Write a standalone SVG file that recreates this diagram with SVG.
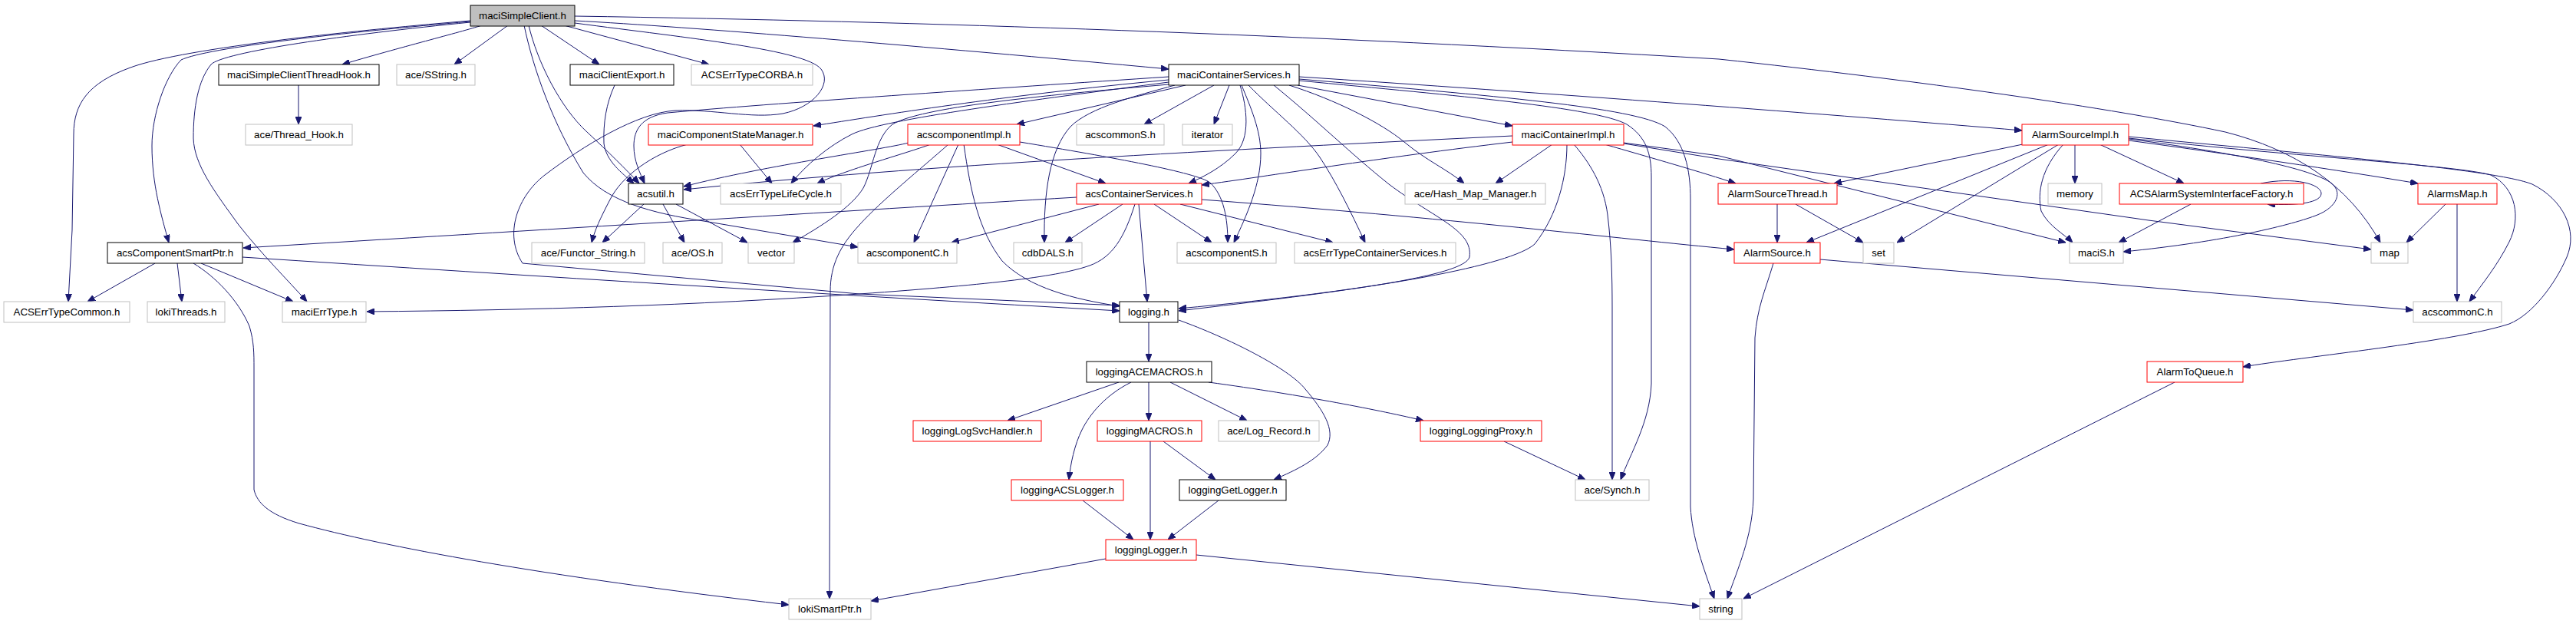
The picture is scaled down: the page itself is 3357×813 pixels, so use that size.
<svg xmlns="http://www.w3.org/2000/svg" width="3357" height="813" viewBox="0 0 3357 813">
<style>
rect{fill:#fff;stroke-width:1}
.k{stroke:#000}.g{stroke:#bfbfbf}.r{stroke:#ff0000}.root{fill:#bfbfbf}
text{font-family:"Liberation Sans",Arial,Helvetica,sans-serif;font-size:13.3px;fill:#000;text-anchor:middle}
#edges path{fill:none;stroke:#191970;stroke-width:1;marker-end:url(#ah)}
</style>
<defs>
<marker id="ah" markerWidth="10" markerHeight="8" refX="10" refY="4" orient="auto" markerUnits="userSpaceOnUse">
<path d="M0,0 L10,4 L0,8 z" fill="#191970" stroke="#191970" stroke-width="1"/>
</marker>
</defs>
<rect x="0" y="0" width="3357" height="813" style="fill:#fff;stroke:none"/>
<g id="edges">
<path d="M613,27 C480,38 240,62 170,88 C115,108 96,135 96,175 L94,300 L89,393"/>
<path d="M613,28 C450,42 270,62 236,78 C215,100 198,150 198,190 C198,240 210,280 220,316"/>
<path d="M613,29 C450,45 290,68 275,84 C258,105 252,140 252,180 C253,215 280,250 311,293 C340,330 375,365 400,393"/>
<path d="M628,33 C600,42 520,62 446,84"/>
<path d="M662,33 L592,84"/>
<path d="M705,33 L781,84"/>
<path d="M735,33 L924,84"/>
<path d="M689,33 C700,80 730,140 765,172 C795,200 815,220 833,239"/>
<path d="M801,111 C790,135 786,160 787,187 C790,210 810,225 826,239"/>
<path d="M1523,100 C1300,115 1000,135 870,147 C835,152 826,170 826,190 C826,210 834,225 840,239"/>
<path d="M749,30 C900,50 1050,65 1070,90 C1085,110 1060,140 1020,148 C980,155 930,142 880,144 C830,147 760,190 710,228 C675,255 656,305 681,343 L1120,383 L1459,398"/>
<path d="M683,33 C695,90 720,160 760,225 C790,262 850,278 917,288 L1118,322"/>
<path d="M749,27 C900,35 1200,60 1523,90"/>
<path d="M749,21 C1200,28 1700,45 2240,77 C2500,105 2750,140 2900,172 C2990,195 3060,240 3102,316"/>
<path d="M2774,181 C2880,195 3000,215 3036,237 C3055,250 3045,270 3020,280 C2990,292 2900,315 2767,328"/>
<path d="M1523,104 C1300,125 1150,150 1060,164"/>
<path d="M1523,107 C1350,130 1150,155 1110,175 C1080,190 1050,215 1031,239"/>
<path d="M1523,110 C1350,125 1200,140 1163,162 C1140,180 1138,220 1125,245 C1110,270 1070,295 1033,316"/>
<path d="M1545,111 L1325,162"/>
<path d="M1531,111 C1480,125 1420,140 1395,165 C1368,195 1360,250 1361,316"/>
<path d="M1582,111 L1491,162"/>
<path d="M1602,111 L1582,162"/>
<path d="M1616,111 C1625,140 1630,180 1610,200 C1590,220 1565,232 1549,239"/>
<path d="M1618,111 C1630,140 1643,170 1643,200 C1643,240 1625,280 1608,316"/>
<path d="M1627,111 C1660,145 1700,175 1720,205 C1740,235 1760,275 1779,316"/>
<path d="M1680,111 C1740,130 1800,160 1830,185 C1860,210 1885,220 1908,239"/>
<path d="M1691,111 L1971,164"/>
<path d="M1660,111 C1720,160 1760,200 1810,240 C1870,285 1920,300 1915,335 C1908,360 1750,380 1536,405"/>
<path d="M1693,105 C1900,125 2080,140 2120,162 C2145,178 2152,200 2152,230 L2152,500 C2150,550 2125,590 2112,625"/>
<path d="M1693,103 C1950,125 2130,140 2170,165 C2195,185 2203,220 2203,260 L2203,660 C2205,700 2220,740 2234,780"/>
<path d="M1693,100 C2000,120 2400,150 2635,170"/>
<path d="M1184,186 C1150,195 1000,215 891,243"/>
<path d="M1213,188 C1180,200 1100,222 1065,239"/>
<path d="M1249,188 L1191,316"/>
<path d="M1299,188 L1441,239"/>
<path d="M1329,185 C1450,205 1560,225 1577,238 C1595,255 1600,285 1600,316"/>
<path d="M1256,188 C1265,250 1275,300 1306,340 C1340,375 1400,390 1459,399"/>
<path d="M1236,188 C1200,220 1150,260 1120,293 C1095,320 1082,345 1082,380 L1081,780"/>
<path d="M896,188 C850,200 810,230 795,260 C782,285 775,300 771,316"/>
<path d="M964,188 L1006,239"/>
<path d="M839,266 L785,316"/>
<path d="M864,266 L892,316"/>
<path d="M881,266 L974,316"/>
<path d="M389,111 L389,162"/>
<path d="M202,343 L114,393"/>
<path d="M231,343 L237,393"/>
<path d="M262,343 L382,393"/>
<path d="M252,343 C280,360 310,390 325,425 C331,445 331,460 331,480 L331,638 C335,655 350,670 390,682 C500,712 700,750 1028,788"/>
<path d="M316,335 C700,360 1100,385 1459,405"/>
<path d="M1403,257 C1100,275 700,300 317,323"/>
<path d="M1432,266 L1240,316"/>
<path d="M1463,266 L1388,316"/>
<path d="M1484,266 L1495,393"/>
<path d="M1504,266 L1579,316"/>
<path d="M1538,266 L1737,316"/>
<path d="M1479,266 C1465,310 1450,335 1420,346 C1380,360 1300,370 1120,383 C900,398 700,404 478,406"/>
<path d="M1566,260 C1900,285 2100,310 2260,325"/>
<path d="M1971,177 C1600,195 1200,215 891,247"/>
<path d="M1971,185 C1800,205 1650,230 1566,241"/>
<path d="M2023,188 L1949,239"/>
<path d="M2042,188 C2042,230 2030,280 2000,318 C1970,345 1800,378 1536,402"/>
<path d="M2051,188 C2070,210 2090,240 2095,280 C2100,320 2101,360 2101,400 L2101,625"/>
<path d="M2091,188 C2150,205 2220,225 2262,239"/>
<path d="M2116,186 L2240,203 L2692,316"/>
<path d="M2116,187 L2240,207 L2800,287 L3090,325"/>
<path d="M2636,188 L2390,239"/>
<path d="M2670,188 L2354,316"/>
<path d="M2683,188 L2472,316"/>
<path d="M2689,188 C2660,220 2655,250 2660,275 C2670,295 2690,305 2701,316"/>
<path d="M2704,188 L2704,239"/>
<path d="M2736,188 L2846,239"/>
<path d="M2774,183 C2900,200 3050,222 3151,239"/>
<path d="M2774,180 C3000,205 3200,215 3246,228 C3280,245 3285,285 3270,315 C3255,345 3235,370 3218,393"/>
<path d="M2774,178 C3000,200 3250,220 3300,240 C3340,260 3360,300 3345,335 C3330,370 3300,410 3270,422 C3200,445 3000,465 2923,478"/>
<path d="M2946,239 C2990,230 3025,240 3025,252 C3025,264 2995,268 2955,266"/>
<path d="M2855,266 L2761,316"/>
<path d="M3187,266 L3136,316"/>
<path d="M3202,266 L3202,393"/>
<path d="M2316,266 L2316,316"/>
<path d="M2340,266 L2428,316"/>
<path d="M2311,343 C2300,380 2290,400 2287,440 L2285,650 C2283,700 2265,740 2251,780"/>
<path d="M2372,338 L3145,404"/>
<path d="M2834,498 L2272,780"/>
<path d="M1497,420 L1497,471"/>
<path d="M1536,417 C1600,440 1680,480 1701,507 C1725,535 1740,560 1730,580 C1715,600 1690,612 1660,625"/>
<path d="M1458,498 L1313,548"/>
<path d="M1474,498 C1440,515 1420,540 1410,560 C1400,580 1395,605 1393,625"/>
<path d="M1497,498 L1497,548"/>
<path d="M1525,498 L1625,548"/>
<path d="M1575,498 C1700,515 1800,535 1855,548"/>
<path d="M1499,575 L1499,703"/>
<path d="M1516,575 L1584,625"/>
<path d="M1411,652 L1477,703"/>
<path d="M1588,652 L1522,703"/>
<path d="M1960,575 L2066,625"/>
<path d="M1441,728 L1135,783"/>
<path d="M1559,723 L2215,790"/>
</g>
<g id="n_msc"><rect class="k root" x="613" y="7" width="136" height="27"/><text x="681" y="25">maciSimpleClient.h</text></g>
<g id="n_thook"><rect class="k" x="285" y="84" width="209" height="27"/><text x="389.5" y="102">maciSimpleClientThreadHook.h</text></g>
<g id="n_sstring"><rect class="g" x="517" y="84" width="102" height="27"/><text x="568" y="102">ace/SString.h</text></g>
<g id="n_cexport"><rect class="k" x="743" y="84" width="135" height="27"/><text x="810.5" y="102">maciClientExport.h</text></g>
<g id="n_corba"><rect class="g" x="901" y="84" width="158" height="27"/><text x="980" y="102">ACSErrTypeCORBA.h</text></g>
<g id="n_mcs"><rect class="k" x="1523" y="84" width="170" height="27"/><text x="1608" y="102">maciContainerServices.h</text></g>
<g id="n_threadhook"><rect class="g" x="320" y="162" width="139" height="27"/><text x="389.5" y="180">ace/Thread_Hook.h</text></g>
<g id="n_csm"><rect class="r" x="845" y="162" width="214" height="27"/><text x="952" y="180">maciComponentStateManager.h</text></g>
<g id="n_cimpl"><rect class="r" x="1183" y="162" width="146" height="27"/><text x="1256" y="180">acscomponentImpl.h</text></g>
<g id="n_commonS"><rect class="g" x="1403" y="162" width="114" height="27"/><text x="1460" y="180">acscommonS.h</text></g>
<g id="n_iter"><rect class="g" x="1541" y="162" width="65" height="27"/><text x="1573.5" y="180">iterator</text></g>
<g id="n_mci"><rect class="r" x="1971" y="162" width="145" height="27"/><text x="2043.5" y="180">maciContainerImpl.h</text></g>
<g id="n_asi"><rect class="r" x="2635" y="162" width="139" height="27"/><text x="2704.5" y="180">AlarmSourceImpl.h</text></g>
<g id="n_acsutil"><rect class="k" x="819" y="239" width="71" height="27"/><text x="854.5" y="257">acsutil.h</text></g>
<g id="n_lifecycle"><rect class="g" x="939" y="239" width="157" height="27"/><text x="1017.5" y="257">acsErrTypeLifeCycle.h</text></g>
<g id="n_acscs"><rect class="r" x="1403" y="239" width="163" height="27"/><text x="1484.5" y="257">acsContainerServices.h</text></g>
<g id="n_hash"><rect class="g" x="1831" y="239" width="183" height="27"/><text x="1922.5" y="257">ace/Hash_Map_Manager.h</text></g>
<g id="n_ast"><rect class="r" x="2239" y="239" width="155" height="27"/><text x="2316.5" y="257">AlarmSourceThread.h</text></g>
<g id="n_memory"><rect class="g" x="2669" y="239" width="70" height="27"/><text x="2704" y="257">memory</text></g>
<g id="n_asif"><rect class="r" x="2762" y="239" width="240" height="27"/><text x="2882" y="257">ACSAlarmSystemInterfaceFactory.h</text></g>
<g id="n_amap"><rect class="r" x="3151" y="239" width="103" height="27"/><text x="3202.5" y="257">AlarmsMap.h</text></g>
<g id="n_acsp"><rect class="k" x="140" y="316" width="176" height="27"/><text x="228" y="334">acsComponentSmartPtr.h</text></g>
<g id="n_functor"><rect class="g" x="693" y="316" width="147" height="27"/><text x="766.5" y="334">ace/Functor_String.h</text></g>
<g id="n_os"><rect class="g" x="864" y="316" width="77" height="27"/><text x="902.5" y="334">ace/OS.h</text></g>
<g id="n_vector"><rect class="g" x="975" y="316" width="60" height="27"/><text x="1005" y="334">vector</text></g>
<g id="n_compC"><rect class="g" x="1118" y="316" width="129" height="27"/><text x="1182.5" y="334">acscomponentC.h</text></g>
<g id="n_cdb"><rect class="g" x="1321" y="316" width="89" height="27"/><text x="1365.5" y="334">cdbDALS.h</text></g>
<g id="n_compS"><rect class="g" x="1534" y="316" width="129" height="27"/><text x="1598.5" y="334">acscomponentS.h</text></g>
<g id="n_ectcs"><rect class="g" x="1687" y="316" width="210" height="27"/><text x="1792" y="334">acsErrTypeContainerServices.h</text></g>
<g id="n_as"><rect class="r" x="2260" y="316" width="112" height="27"/><text x="2316" y="334">AlarmSource.h</text></g>
<g id="n_set"><rect class="g" x="2428" y="316" width="40" height="27"/><text x="2448" y="334">set</text></g>
<g id="n_macis"><rect class="g" x="2697" y="316" width="70" height="27"/><text x="2732" y="334">maciS.h</text></g>
<g id="n_map"><rect class="g" x="3090" y="316" width="48" height="27"/><text x="3114" y="334">map</text></g>
<g id="n_etcommon"><rect class="g" x="5" y="393" width="164" height="27"/><text x="87" y="411">ACSErrTypeCommon.h</text></g>
<g id="n_lokith"><rect class="g" x="192" y="393" width="101" height="27"/><text x="242.5" y="411">lokiThreads.h</text></g>
<g id="n_mer"><rect class="g" x="368" y="393" width="109" height="27"/><text x="422.5" y="411">maciErrType.h</text></g>
<g id="n_logging"><rect class="k" x="1459" y="393" width="76" height="27"/><text x="1497" y="411">logging.h</text></g>
<g id="n_commonC"><rect class="g" x="3145" y="393" width="115" height="27"/><text x="3202.5" y="411">acscommonC.h</text></g>
<g id="n_acemacros"><rect class="k" x="1416" y="471" width="163" height="27"/><text x="1497.5" y="489">loggingACEMACROS.h</text></g>
<g id="n_atq"><rect class="r" x="2798" y="471" width="125" height="27"/><text x="2860.5" y="489">AlarmToQueue.h</text></g>
<g id="n_lsvc"><rect class="r" x="1190" y="548" width="167" height="27"/><text x="1273.5" y="566">loggingLogSvcHandler.h</text></g>
<g id="n_lmacros"><rect class="r" x="1430" y="548" width="136" height="27"/><text x="1498" y="566">loggingMACROS.h</text></g>
<g id="n_logrec"><rect class="g" x="1588" y="548" width="131" height="27"/><text x="1653.5" y="566">ace/Log_Record.h</text></g>
<g id="n_lproxy"><rect class="r" x="1851" y="548" width="158" height="27"/><text x="1930" y="566">loggingLoggingProxy.h</text></g>
<g id="n_lacs"><rect class="r" x="1318" y="625" width="146" height="27"/><text x="1391" y="643">loggingACSLogger.h</text></g>
<g id="n_lget"><rect class="k" x="1537" y="625" width="139" height="27"/><text x="1606.5" y="643">loggingGetLogger.h</text></g>
<g id="n_synch"><rect class="g" x="2053" y="625" width="96" height="27"/><text x="2101" y="643">ace/Synch.h</text></g>
<g id="n_llogger"><rect class="r" x="1441" y="703" width="118" height="27"/><text x="1500" y="721">loggingLogger.h</text></g>
<g id="n_lokisp"><rect class="g" x="1028" y="780" width="107" height="27"/><text x="1081.5" y="798">lokiSmartPtr.h</text></g>
<g id="n_string"><rect class="g" x="2215" y="780" width="55" height="27"/><text x="2242.5" y="798">string</text></g>
</svg>
